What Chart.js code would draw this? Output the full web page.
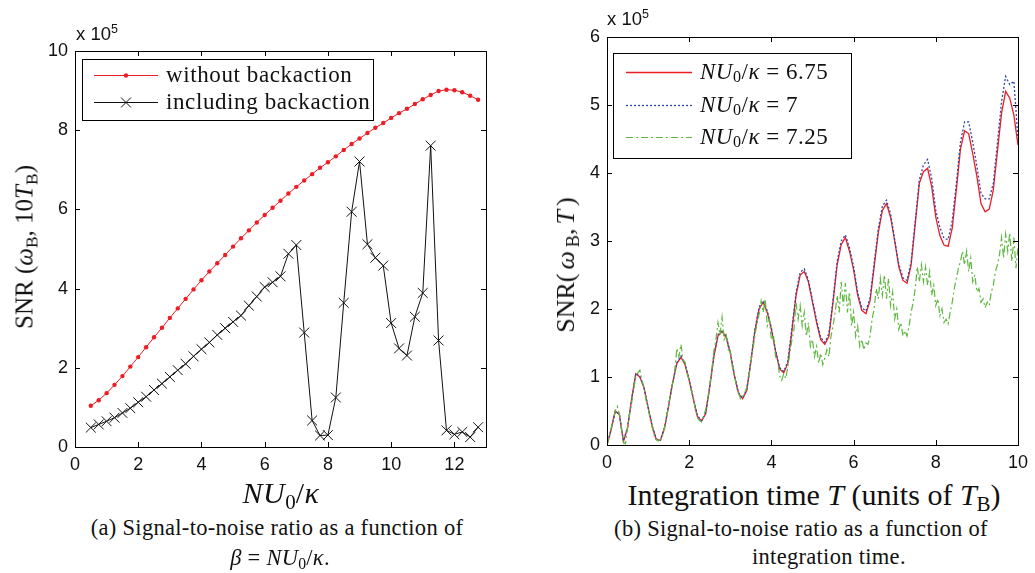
<!DOCTYPE html>
<html><head><meta charset="utf-8">
<script src="https://cdn.jsdelivr.net/npm/chart.js@4.4.1/dist/chart.umd.min.js"></script>
<style>
body{margin:0;width:1035px;height:573px;background:#fff;position:relative;overflow:hidden;font-family:"Liberation Serif","DejaVu Serif",serif;color:#111;}
canvas{position:absolute;top:0;}
#cA{left:0;}
#cB{left:520px;}
.t{position:absolute;white-space:nowrap;transform:translate(-50%,-50%);line-height:1;}
.rot{transform:translate(-50%,-50%) rotate(-90deg);}
.cap{font-size:22.5px;letter-spacing:0.3px;}
.ax{font-size:30px;}
sub{font-size:0.7em;vertical-align:-0.28em;line-height:0;letter-spacing:0;}
.exp{position:absolute;font-family:"Liberation Sans",Arial,sans-serif;font-size:18.5px;line-height:18px;white-space:nowrap;}
.exp sup{font-size:12.5px;vertical-align:0.55em;line-height:0;}
</style></head>
<body>
<canvas id="cA" width="520" height="477" style="width:520px;height:477px"></canvas>
<canvas id="cB" width="515" height="475" style="width:515px;height:475px"></canvas>

<div class="exp" style="left:76px;top:25px">x 10<sup>5</sup></div>
<div class="exp" style="left:607px;top:10px">x 10<sup>5</sup></div>

<div class="t ax" style="left:281px;top:493px;letter-spacing:0.5px"><i>NU</i><sub>0</sub>/<i>κ</i></div>
<div class="t ax rot" style="left:24px;top:247px;font-size:25px">SNR (<i>ω</i><sub>B</sub>, 10<i>T</i><sub>B</sub>)</div>
<div class="t ax" style="left:814px;top:495px">Integration time <i>T</i> (units of <i>T</i><sub>B</sub>)</div>
<div class="t ax rot" style="left:566px;top:263px;font-size:26px">SNR<span style="letter-spacing:4px">(<i>ω</i><sub>B</sub>,<i>T</i>)</span></div>

<div class="t cap" style="left:277px;top:528px">(a) Signal-to-noise ratio as a function of</div>
<div class="t cap" style="left:280px;top:558px"><i>β</i> = <i>NU</i><sub>0</sub>/<i>κ</i>.</div>
<div class="t cap" style="left:801px;top:529px">(b) Signal-to-noise ratio as a function of</div>
<div class="t cap" style="left:752px;top:557px;transform:translate(0,-50%)">integration time.</div>

<script>
// ---------- Panel (a) data ----------
const betaVals = [0.5,0.75,1,1.25,1.5,1.75,2,2.25,2.5,2.75,3,3.25,3.5,3.75,4,4.25,4.5,4.75,5,5.25,5.5,5.75,6,6.25,6.5,6.75,7,7.25,7.5,7.75,8,8.25,8.5,8.75,9,9.25,9.5,9.75,10,10.25,10.5,10.75,11,11.25,11.5,11.75,12,12.25,12.5,12.75];
const snrNoBackaction = [1.04,1.18,1.36,1.57,1.79,2.03,2.27,2.52,2.77,3.01,3.26,3.50,3.74,3.98,4.21,4.43,4.64,4.85,5.06,5.27,5.47,5.67,5.86,6.04,6.22,6.40,6.57,6.73,6.89,7.05,7.19,7.34,7.50,7.65,7.79,7.93,8.06,8.18,8.31,8.43,8.54,8.66,8.78,8.89,8.99,9.02,9.01,8.96,8.87,8.77];
const snrBackaction = [0.49,0.57,0.65,0.74,0.86,0.98,1.13,1.27,1.44,1.60,1.77,1.94,2.10,2.29,2.47,2.64,2.83,3.00,3.16,3.32,3.57,3.80,4.04,4.16,4.31,4.88,5.10,2.89,0.67,0.29,0.30,1.25,3.64,5.94,7.21,5.12,4.78,4.58,3.13,2.49,2.31,3.29,3.89,7.61,2.69,0.42,0.32,0.38,0.25,0.50];
const xTicksA = [0,2,4,6,8,10,12];
const yTicksA = [0,2,4,6,8,10];
const legendA = ['without backaction','including backaction'];

// ---------- Panel (b) data ----------
const timeCoarse = [0,0.1,0.2,0.3,0.4,0.5,0.6,0.7,0.8,0.9,
 1,1.1,1.2,1.3,1.4,1.5,1.6,1.7,1.8,1.9,
 2,2.1,2.2,2.3,2.4,2.5,2.6,2.7,2.8,2.9,
 3,3.1,3.2,3.3,3.4,3.5,3.6,3.7,3.8,3.9,
 4,4.1,4.2,4.3,4.4,4.5,4.6,4.7,4.8,4.9,
 5,5.1,5.2,5.3,5.4,5.5,5.6,5.7,5.8,5.9,
 6,6.1,6.2,6.3,6.4,6.5,6.6,6.7,6.8,6.9,
 7,7.1,7.2,7.3,7.4,7.5,7.6,7.7,7.8,7.9,
 8,8.1,8.2,8.3,8.4,8.5,8.6,8.7,8.8,8.9,
 9,9.1,9.2,9.3,9.4,9.5,9.6,9.7,9.8,9.9,10];
const snr675 = [0,0.22,0.50,0.45,0.05,0.25,0.68,1.05,1.00,0.84,
 0.55,0.27,0.08,0.07,0.25,0.58,0.92,1.20,1.29,1.18,
 0.95,0.68,0.42,0.35,0.46,0.85,1.30,1.60,1.67,1.58,
 1.35,1.02,0.76,0.68,0.80,1.22,1.68,2.00,2.10,1.95,
 1.70,1.38,1.12,1.06,1.20,1.68,2.20,2.50,2.55,2.40,
 2.10,1.80,1.55,1.48,1.60,2.10,2.65,2.95,3.05,2.85,
 2.58,2.20,1.98,1.93,2.12,2.62,3.12,3.45,3.55,3.35,
 3.00,2.62,2.42,2.38,2.65,3.25,3.85,4.02,4.07,3.80,
 3.35,3.08,2.94,2.92,3.19,3.75,4.35,4.62,4.58,4.28,
 3.95,3.55,3.43,3.47,3.75,4.32,4.88,5.20,5.10,4.85,4.41];
const snr7 = [0,0.23,0.49,0.46,0.06,0.26,0.67,1.05,1.01,0.85,
 0.56,0.28,0.09,0.07,0.26,0.59,0.93,1.21,1.31,1.19,
 0.96,0.69,0.43,0.36,0.47,0.86,1.31,1.62,1.69,1.60,
 1.36,1.03,0.77,0.69,0.82,1.24,1.70,2.03,2.12,1.97,
 1.72,1.40,1.14,1.08,1.23,1.72,2.24,2.54,2.59,2.43,
 2.13,1.83,1.58,1.51,1.64,2.14,2.70,3.00,3.09,2.90,
 2.62,2.24,2.02,1.97,2.16,2.67,3.17,3.51,3.60,3.40,
 3.02,2.66,2.46,2.42,2.70,3.30,3.90,4.12,4.20,3.92,
 3.45,3.20,3.04,3.02,3.30,3.85,4.45,4.75,4.75,4.45,
 4.10,3.70,3.62,3.62,3.85,4.45,5.05,5.42,5.30,5.35,4.50];
const timeFine = [0,0.05,0.1,0.15,0.2,0.25,0.3,0.35,0.4,0.45,0.5,0.55,0.6,0.65,0.7,0.75,0.8,0.85,0.9,0.95,
 1,1.05,1.1,1.15,1.2,1.25,1.3,1.35,1.4,1.45,1.5,1.55,1.6,1.65,1.7,1.75,1.8,1.85,1.9,1.95,
 2,2.05,2.1,2.15,2.2,2.25,2.3,2.35,2.4,2.45,2.5,2.55,2.6,2.65,2.7,2.75,2.8,2.85,2.9,2.95,
 3,3.05,3.1,3.15,3.2,3.25,3.3,3.35,3.4,3.45,3.5,3.55,3.6,3.65,3.7,3.75,3.8,3.85,3.9,3.95,
 4,4.05,4.1,4.15,4.2,4.25,4.3,4.35,4.4,4.45,4.5,4.55,4.6,4.65,4.7,4.75,4.8,4.85,4.9,4.95,
 5,5.05,5.1,5.15,5.2,5.25,5.3,5.35,5.4,5.45,5.5,5.55,5.6,5.65,5.7,5.75,5.8,5.85,5.9,5.95,
 6,6.05,6.1,6.15,6.2,6.25,6.3,6.35,6.4,6.45,6.5,6.55,6.6,6.65,6.7,6.75,6.8,6.85,6.9,6.95,
 7,7.05,7.1,7.15,7.2,7.25,7.3,7.35,7.4,7.45,7.5,7.55,7.6,7.65,7.7,7.75,7.8,7.85,7.9,7.95,
 8,8.05,8.1,8.15,8.2,8.25,8.3,8.35,8.4,8.45,8.5,8.55,8.6,8.65,8.7,8.75,8.8,8.85,8.9,8.95,
 9,9.05,9.1,9.15,9.2,9.25,9.3,9.35,9.4,9.45,9.5,9.55,9.6,9.65,9.7,9.75,9.8,9.85,9.9,9.95,10];
const snr725 = [0.00,0.12,0.24,0.38,0.50,0.57,0.46,0.24,0.04,0.02,0.26,0.45,0.62,0.82,1.00,1.06,1.10,0.95,0.85,0.66,
 0.55,0.38,0.26,0.14,0.08,0.06,0.08,0.14,0.25,0.40,0.58,0.78,0.92,1.10,1.42,1.30,1.48,1.25,1.22,1.05,
 0.95,0.80,0.70,0.52,0.40,0.36,0.34,0.42,0.52,0.68,0.88,1.10,1.38,1.55,1.80,1.62,1.88,1.55,1.62,1.40,
 1.38,1.15,1.05,0.85,0.76,0.68,0.72,0.75,0.85,1.00,1.22,1.40,1.62,1.78,1.92,2.12,1.95,2.15,1.75,1.85,
 1.55,1.62,1.30,1.25,1.02,0.95,1.05,0.98,1.15,1.35,1.55,1.70,2.10,1.85,2.05,1.75,1.95,1.60,1.80,1.45,
 1.55,1.30,1.45,1.20,1.35,1.18,1.28,1.40,1.30,1.60,1.75,1.95,2.20,1.95,2.40,2.05,2.38,1.95,2.25,1.75,
 1.95,1.60,1.75,1.45,1.55,1.40,1.50,1.48,1.60,1.85,2.00,2.30,2.15,2.45,2.20,2.50,2.15,2.45,2.05,2.25,
 1.85,2.00,1.70,1.80,1.60,1.68,1.60,1.75,1.95,2.10,2.30,2.62,2.40,2.65,2.40,2.62,2.35,2.55,2.20,2.35,
 2.05,2.15,1.90,2.00,1.80,1.85,1.78,1.95,2.10,2.30,2.45,2.60,2.70,2.85,2.65,2.85,2.55,2.75,2.40,2.50,
 2.25,2.30,2.10,2.15,2.02,2.10,2.05,2.25,2.35,2.55,2.65,2.80,3.05,2.75,3.10,2.85,3.12,2.70,3.05,2.60,2.90];
const xTicksB = [0,2,4,6,8,10];
const yTicksB = [0,1,2,3,4,5,6];
const kappaLabels = ['6.75','7','7.25'];

// ---------- helpers ----------
const RED = '#ee1c24', BLUE = '#2e48a6', GREEN = '#5cb83c';
const TICKFONT = {family:'"Liberation Sans", Arial, sans-serif', size:18};

function drawRich(ctx, x, y, parts, size, spacing) {
  if ('letterSpacing' in ctx) ctx.letterSpacing = spacing + 'px';
  for (const [txt, st] of parts) {
    const sz = st === 's' ? size * 0.7 : size;
    ctx.font = (st === 'i' ? 'italic ' : '') + sz + 'px "Liberation Serif", "DejaVu Serif", serif';
    ctx.fillText(txt, x, y + (st === 's' ? size * 0.25 : 0));
    x += ctx.measureText(txt).width;
  }
  if ('letterSpacing' in ctx) ctx.letterSpacing = '0px';
}

const framePlugin = {
  id: 'frame',
  afterDatasetsDraw(chart) {
    const {ctx, chartArea: a, scales: {x, y}} = chart;
    const L = 5;
    ctx.save();
    ctx.strokeStyle = '#000'; ctx.lineWidth = 1; ctx.setLineDash([]);
    ctx.strokeRect(Math.round(a.left) + 0.5, Math.round(a.top) + 0.5, Math.round(a.right - a.left), Math.round(a.bottom - a.top));
    ctx.beginPath();
    x.ticks.forEach(t => {
      const px = Math.round(x.getPixelForValue(t.value)) + 0.5;
      ctx.moveTo(px, a.bottom); ctx.lineTo(px, a.bottom - L);
      ctx.moveTo(px, a.top); ctx.lineTo(px, a.top + L);
    });
    y.ticks.forEach(t => {
      const py = Math.round(y.getPixelForValue(t.value)) + 0.5;
      ctx.moveTo(a.left, py); ctx.lineTo(a.left + L, py);
      ctx.moveTo(a.right, py); ctx.lineTo(a.right - L, py);
    });
    ctx.stroke();
    ctx.restore();
  }
};

const boxLegend = {
  id: 'boxLegend',
  afterDraw(chart, args, o) {
    const {ctx, chartArea: a} = chart;
    const bx = Math.round(a.left + o.dx), by = Math.round(a.top + o.dy);
    ctx.save();
    ctx.fillStyle = '#fff'; ctx.fillRect(bx, by, o.w, o.h);
    ctx.strokeStyle = '#000'; ctx.lineWidth = 1; ctx.setLineDash([]);
    ctx.strokeRect(bx + 0.5, by + 0.5, o.w, o.h);
    chart.data.datasets.forEach((ds, i) => {
      const yy = by + o.rows[i] + 0.5;
      ctx.strokeStyle = ds.borderColor; ctx.lineWidth = ds.borderWidth;
      ctx.setLineDash(ds.borderDash || []);
      ctx.beginPath(); ctx.moveTo(bx + o.x0, yy); ctx.lineTo(bx + o.x1, yy); ctx.stroke();
      ctx.setLineDash([]);
      if (ds.pointRadius > 0) {
        ctx.fillStyle = ds.pointBackgroundColor || ds.borderColor;
        ctx.strokeStyle = ds.pointBorderColor || ds.borderColor;
        ctx.lineWidth = ds.pointBorderWidth || 1;
        Chart.helpers.drawPoint(ctx, {pointStyle: ds.pointStyle, radius: ds.pointRadius, rotation: 0, borderWidth: ds.pointBorderWidth}, bx + (o.x0 + o.x1) / 2, yy);
      }
      ctx.fillStyle = '#111'; ctx.textBaseline = 'middle'; ctx.textAlign = 'left';
      drawRich(ctx, bx + o.tx, yy, o.labels[i], o.size, o.spacing);
    });
    ctx.restore();
  }
};

function scaleOpts(min, max, ticks, fitProp, fitVal, pad) {
  return {
    type: 'linear', min: min, max: max,
    afterBuildTicks: s => { s.ticks = ticks.map(v => ({value: v})); },
    afterFit: s => { s[fitProp] = fitVal; },
    grid: {display: true, drawOnChartArea: false, drawTicks: false},
    border: {display: false},
    ticks: {padding: pad, font: TICKFONT, color: '#111', maxRotation: 0, autoSkip: false}
  };
}

function build() {
// ---------- Panel (a) ----------
new Chart(document.getElementById('cA'), {
  type: 'line',
  data: {datasets: [
    {label: legendA[0], data: betaVals.map((b, i) => ({x: b, y: snrNoBackaction[i]})),
     borderColor: RED, backgroundColor: RED, pointBackgroundColor: RED, borderWidth: 1,
     pointStyle: 'circle', pointRadius: 2.2, pointBorderWidth: 0, tension: 0},
    {label: legendA[1], data: betaVals.map((b, i) => ({x: b, y: snrBackaction[i]})),
     borderColor: '#111', backgroundColor: '#111', pointBorderColor: '#111', borderWidth: 1,
     pointStyle: 'crossRot', pointRadius: 7, pointBorderWidth: 1, tension: 0}
  ]},
  options: {
    responsive: false, animation: false, events: [],
    layout: {padding: {left: 0, right: 34, top: 51, bottom: 0}},
    plugins: {
      legend: {display: false}, tooltip: {enabled: false},
      boxLegend: {dx: 7, dy: 8, w: 291, h: 61, rows: [16, 43], x0: 12, x1: 76, tx: 84, size: 23, spacing: 0.6,
        labels: legendA.map(s => [[s, 'n']])}
    },
    scales: {
      x: scaleOpts(0, 13, xTicksA, 'height', 30, 7),
      y: scaleOpts(0, 10, yTicksA, 'width', 75, 7)
    }
  },
  plugins: [framePlugin, boxLegend]
});

// ---------- Panel (b) ----------
new Chart(document.getElementById('cB'), {
  type: 'line',
  data: {datasets: [
    {label: kappaLabels[0], data: timeCoarse.map((t, i) => ({x: t, y: snr675[i]})),
     borderColor: RED, borderWidth: 1.3, pointRadius: 0, tension: 0, order: 3},
    {label: kappaLabels[1], data: timeCoarse.map((t, i) => ({x: t, y: snr7[i]})),
     borderColor: BLUE, borderWidth: 1.3, borderDash: [2, 2], pointRadius: 0, tension: 0, order: 2},
    {label: kappaLabels[2], data: timeFine.map((t, i) => ({x: t, y: snr725[i]})),
     borderColor: GREEN, borderWidth: 1.2, borderDash: [7, 3, 2, 3], pointRadius: 0, tension: 0, order: 1}
  ]},
  options: {
    responsive: false, animation: false, events: [],
    layout: {padding: {left: 0, right: 15, top: 37, bottom: 0}},
    plugins: {
      legend: {display: false}, tooltip: {enabled: false},
      boxLegend: {dx: 6, dy: 16, w: 238, h: 105, rows: [19, 52, 84], x0: 13, x1: 79, tx: 87, size: 23, spacing: 0.5,
        labels: kappaLabels.map(v => [['NU', 'i'], ['0', 's'], ['/', 'n'], ['κ', 'i'], [' = ' + v, 'n']])}
    },
    scales: {
      x: scaleOpts(0, 10, xTicksB, 'height', 30, 7),
      y: scaleOpts(0, 6, yTicksB, 'width', 87, 7)
    }
  },
  plugins: [framePlugin, boxLegend]
});
}
if (document.fonts && document.fonts.load) {
  Promise.all([
    document.fonts.load('23px "Liberation Serif"'),
    document.fonts.load('italic 23px "Liberation Serif"'),
    document.fonts.load('18px "Liberation Sans"')
  ]).then(build, build);
} else { build(); }
</script>
</body></html>
